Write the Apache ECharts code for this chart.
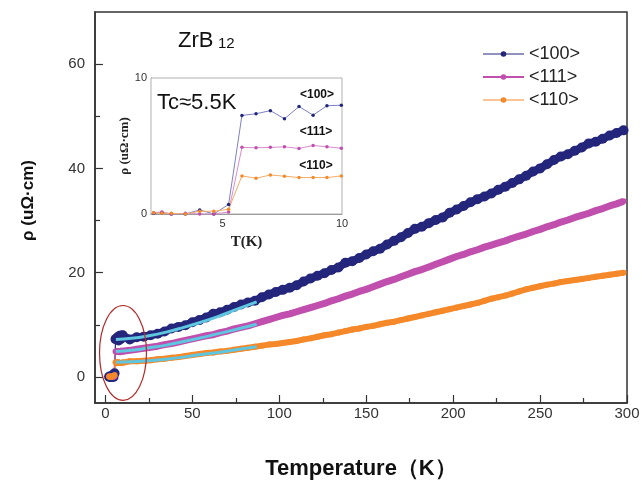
<!DOCTYPE html>
<html><head><meta charset="utf-8">
<script src="https://cdn.jsdelivr.net/npm/echarts@6/dist/echarts.min.js"></script>
<style>html,body{margin:0;padding:0;background:#fff}#c{width:641px;height:480px}</style>
</head><body><div id="c"></div>
<script>
// ---- data ----
const insetT  = [2.11, 2.46, 2.85, 3.44, 4.04, 4.63, 5.25, 5.81, 6.40, 7.00, 7.59, 8.20, 8.79, 9.37, 9.97];
const inset100 = [0.05, 0.1, 0.0, 0.0, 0.3, 0.0, 0.7, 7.25, 7.37, 7.6, 7.0, 7.9, 7.27, 7.96, 8.0];
const inset111 = [0.1, 0.15, 0.0, 0.05, 0.0, 0.0, 0.15, 4.9, 4.87, 4.9, 4.94, 4.82, 5.04, 4.94, 4.84];
const inset110 = [0.1, 0.05, 0.05, 0.0, 0.2, 0.2, 0.35, 2.8, 2.63, 2.87, 2.78, 2.68, 2.68, 2.68, 2.8];

const mainT = [14,18,22,26,30,34,38,42,46,50,54,58,62,66,70,74,78,82,86,90,94,98,102,106,110,114,118,122,126,130,
  134,138,142,146,150,154,158,162,166,170,174,178,182,186,190,194,198,202,206,210,214,218,222,226,230,234,238,242,246,250,
  254,258,262,266,270,274,278,282,286,290,294,298];
const main100 = [7.2,7.6,7.7,8.0,8.3,8.7,9.3,9.6,9.9,10.5,10.9,11.4,12.1,12.4,12.9,13.4,13.9,14.3,14.6,15.3,
  15.8,16.3,16.7,17.1,17.6,18.3,18.9,19.4,19.9,20.5,21.0,21.9,22.2,22.8,23.5,24.1,24.6,25.4,26.1,26.8,
  27.6,28.4,28.8,29.5,30.1,30.6,31.5,32.1,32.8,33.5,34.1,34.6,35.2,35.9,36.5,37.2,37.9,38.6,39.4,40.0,
  40.8,41.6,42.3,42.7,43.4,44.0,44.8,45.1,45.7,46.3,46.8,47.3];
const main111 = [5.1,5.3,5.5,5.7,5.9,6.2,6.4,6.7,7.0,7.3,7.6,7.9,8.1,8.5,8.8,9.2,9.5,9.8,10.2,10.6,
  11.0,11.4,11.8,12.1,12.5,12.9,13.3,13.7,14.1,14.6,15.0,15.5,15.9,16.4,16.8,17.3,17.8,18.3,18.7,19.2,
  19.7,20.2,20.6,21.1,21.6,22.1,22.6,23.1,23.5,24.0,24.4,24.9,25.3,25.7,26.1,26.6,27.0,27.4,27.9,28.3,
  28.8,29.2,29.7,30.1,30.6,31.0,31.4,31.9,32.3,32.8,33.2,33.7];
const main110 = [3.0,3.0,3.1,3.2,3.4,3.5,3.7,3.8,4.0,4.2,4.4,4.6,4.7,4.9,5.0,5.2,5.4,5.6,5.8,6.0,
  6.2,6.3,6.5,6.7,6.9,7.2,7.4,7.7,8.0,8.2,8.5,8.8,9.1,9.3,9.6,9.8,10.1,10.4,10.6,10.9,
  11.2,11.5,11.8,12.1,12.4,12.7,13.0,13.3,13.6,13.9,14.2,14.6,15.0,15.3,15.6,16.0,16.4,16.8,17.1,17.4,
  17.7,17.9,18.2,18.4,18.6,18.8,19.0,19.2,19.4,19.6,19.8,20.0];

const fitT   = [6, 15, 25, 35, 45, 55, 65, 75, 87];
const fit100 = [7.2, 7.4, 7.9, 8.6, 9.5, 10.5, 11.6, 12.9, 14.4];
const fit111 = [4.9, 5.1, 5.6, 6.1, 6.8, 7.5, 8.3, 9.1, 10.1];
const fit110 = [2.8, 2.9, 3.1, 3.4, 3.8, 4.3, 4.7, 5.2, 5.8];

const seriesNames = ['<100>', '<111>', '<110>'];
const xTicks = [0, 50, 100, 150, 200, 250, 300];
const xMinor = [25, 75, 125, 175, 225, 275];
const yTicks = [0, 20, 40, 60];
const yMinor = [10, 30, 50];
const insetXTicks = [5, 10];
const insetYTicks = [0, 10];
const ellipseCenter = [10.1, 4.6];
const ellipseHalf = [13.5, 9.1];

// ---- build ----
const pair = (xs, ys) => xs.map((x, i) => [x, ys[i]]);
const full100 = pair(insetT, inset100).concat(pair(mainT, main100));
const full111 = pair(insetT, inset111).concat(pair(mainT, main111));
const full110 = pair(insetT, inset110).concat(pair(mainT, main110));
const above = d => d.filter(p => p[0] >= 5.8);

const C100 = '#23267b', C111 = '#c04fae', C110 = '#f5892a', CFIT = '#5ec6df';
const FONT = "'Liberation Sans', Arial, sans-serif";
const SERIF = "'Liberation Serif', 'Times New Roman', serif";

const chart = echarts.init(document.getElementById('c'));

function band(data, color, w) {
  return {type: 'line', xAxisIndex: 0, yAxisIndex: 0, data: data, symbol: 'none', silent: true,
    lineStyle: {color: color, width: w}, z: 2, animation: false};
}
function pts(name, data, color, size) {
  return {name: name, type: 'line', xAxisIndex: 0, yAxisIndex: 0, data: data, symbol: 'circle',
    symbolSize: size, showAllSymbol: true, itemStyle: {color: color}, lineStyle: {color: color, width: 1.2},
    z: 3, animation: false};
}
function fit(data) {
  return {type: 'line', xAxisIndex: 0, yAxisIndex: 0, data: data, symbol: 'none', smooth: true, silent: true,
    lineStyle: {color: CFIT, width: 3}, z: 5, animation: false};
}
function ins(data, color, lineColor) {
  return {type: 'line', xAxisIndex: 2, yAxisIndex: 2, data: data, symbol: 'circle', symbolSize: 3.5,
    itemStyle: {color: color}, lineStyle: {color: lineColor, width: 1}, z: 6, animation: false};
}

const option = {
  backgroundColor: '#fff',
  animation: false,
  grid: [
    {left: 95, right: 14, top: 12, bottom: 77, show: true, borderColor: '#333', borderWidth: 1.5,
      backgroundColor: 'transparent', containLabel: false, outerBoundsMode: 'none'},
    {left: 151, top: 78, width: 191, height: 136, show: true, borderColor: '#b0b0b0', borderWidth: 1,
      backgroundColor: '#fff', z: 4, containLabel: false, outerBoundsMode: 'none'}
  ],
  legend: {
    orient: 'vertical', left: 477, top: 40, itemWidth: 41, itemHeight: 7, itemGap: 5,
    textStyle: {fontSize: 18, color: '#222', fontFamily: FONT, lineHeight: 18},
    data: [
      {name: seriesNames[0], lineStyle: {width: 1}},
      {name: seriesNames[1], lineStyle: {width: 2}},
      {name: seriesNames[2], lineStyle: {width: 1}}
    ]
  },
  xAxis: [
    {gridIndex: 0, type: 'value', min: -6, max: 300, position: 'bottom',
      axisLine: {show: true, onZero: false, lineStyle: {color: '#333', width: 1.5}},
      axisTick: {show: true, inside: true, length: 8, customValues: xTicks, lineStyle: {color: '#333', width: 1.2}},
      axisLabel: {customValues: xTicks, margin: 3, fontSize: 15, color: '#333', fontFamily: FONT},
      splitLine: {show: false},
      name: 'Temperature（K）', nameLocation: 'middle', nameGap: 55,
      nameTextStyle: {fontSize: 22, fontWeight: 'bold', color: '#111', fontFamily: FONT}},
    {gridIndex: 0, type: 'value', min: -6, max: 300, position: 'bottom',
      axisLine: {show: false, onZero: false},
      axisTick: {show: true, inside: true, length: 5, customValues: xMinor, lineStyle: {color: '#333', width: 1.2}},
      axisLabel: {show: false}, splitLine: {show: false}},
    {gridIndex: 1, type: 'value', min: 2, max: 10, position: 'bottom',
      axisLine: {show: true, onZero: false, lineStyle: {color: '#888', width: 1}},
      axisTick: {show: false},
      axisLabel: {customValues: insetXTicks, margin: 4, fontSize: 11, color: '#333', fontFamily: FONT},
      splitLine: {show: false},
      name: 'T(K)', nameLocation: 'middle', nameGap: 21,
      nameTextStyle: {fontSize: 15, fontWeight: 'bold', color: '#222', fontFamily: SERIF}}
  ],
  yAxis: [
    {gridIndex: 0, type: 'value', min: -5, max: 70, position: 'left',
      axisLine: {show: true, onZero: false, lineStyle: {color: '#333', width: 1.5}},
      axisTick: {show: true, inside: true, length: 8, customValues: yTicks, lineStyle: {color: '#333', width: 1.2}},
      axisLabel: {customValues: yTicks, margin: 10, fontSize: 15, color: '#333', fontFamily: FONT},
      splitLine: {show: false},
      name: 'ρ (uΩ·cm)', nameLocation: 'middle', nameGap: 58,
      nameTextStyle: {fontSize: 17, fontWeight: 'bold', color: '#111', fontFamily: FONT, padding: [0, 0, 0, 14]}},
    {gridIndex: 0, type: 'value', min: -5, max: 70, position: 'left',
      axisLine: {show: false, onZero: false},
      axisTick: {show: true, inside: true, length: 5, customValues: yMinor, lineStyle: {color: '#333', width: 1.2}},
      axisLabel: {show: false}, splitLine: {show: false}},
    {gridIndex: 1, type: 'value', min: 0, max: 10, position: 'left',
      axisLine: {show: true, onZero: false, lineStyle: {color: '#888', width: 1}},
      axisTick: {show: false},
      axisLabel: {customValues: insetYTicks, margin: 4, fontSize: 11, color: '#333', fontFamily: FONT},
      splitLine: {show: false},
      name: 'ρ (uΩ·cm)', nameLocation: 'middle', nameGap: 9,
      nameTextStyle: {fontSize: 13, fontWeight: 'bold', color: '#222', fontFamily: SERIF}}
  ],
  series: [
    band(above(full100), C100, 8),
    pts(seriesNames[0], full100, C100, 10),
    band(above(full111), C111, 7),
    pts(seriesNames[1], full111, C111, 6),
    band(above(full110), C110, 6),
    pts(seriesNames[2], full110, C110, 6),
    fit(pair(fitT, fit100)),
    fit(pair(fitT, fit111)),
    fit(pair(fitT, fit110)),
    ins(pair(insetT, inset100), C100, '#7d80c6'),
    ins(pair(insetT, inset111), C111, '#d98ccf'),
    ins(pair(insetT, inset110), C110, '#f5ac66')
  ],
  graphic: [
    {id: 'zrb', type: 'text', x: 178, y: 30, z: 10,
      style: {text: 'ZrB', fontSize: 22, fontFamily: FONT, fill: '#111', textVerticalAlign: 'top'}},
    {id: 'zrb12', type: 'text', x: 218, y: 36, z: 10,
      style: {text: '12', fontSize: 15, fontFamily: FONT, fill: '#111', textVerticalAlign: 'top'}},
    {id: 'tc', type: 'text', x: 157, y: 92, z: 10,
      style: {text: 'Tc≈5.5K', fontSize: 22, fontFamily: FONT, fill: '#111', textVerticalAlign: 'top'}},
    {id: 'l100', type: 'text', x: 317, y: 95, z: 10,
      style: {text: '<100>', fontSize: 12, fontWeight: 'bold', fontFamily: FONT, fill: '#111', textAlign: 'center', textVerticalAlign: 'middle'}},
    {id: 'l111', type: 'text', x: 316, y: 132, z: 10,
      style: {text: '<111>', fontSize: 12, fontWeight: 'bold', fontFamily: FONT, fill: '#111', textAlign: 'center', textVerticalAlign: 'middle'}},
    {id: 'l110', type: 'text', x: 316, y: 166, z: 10,
      style: {text: '<110>', fontSize: 12, fontWeight: 'bold', fontFamily: FONT, fill: '#111', textAlign: 'center', textVerticalAlign: 'middle'}}
  ]
};
chart.setOption(option);

const p0 = chart.convertToPixel({xAxisIndex: 0, yAxisIndex: 0}, ellipseCenter);
const p1 = chart.convertToPixel({xAxisIndex: 0, yAxisIndex: 0}, [ellipseCenter[0] + ellipseHalf[0], ellipseCenter[1] + ellipseHalf[1]]);
chart.setOption({graphic: [{id: 'ell', type: 'ellipse', z: 9, silent: true,
  shape: {cx: p0[0], cy: p0[1], rx: p1[0] - p0[0], ry: p0[1] - p1[1]},
  style: {fill: 'none', stroke: '#b22a2a', lineWidth: 1.2}}]});
</script>
</body></html>
